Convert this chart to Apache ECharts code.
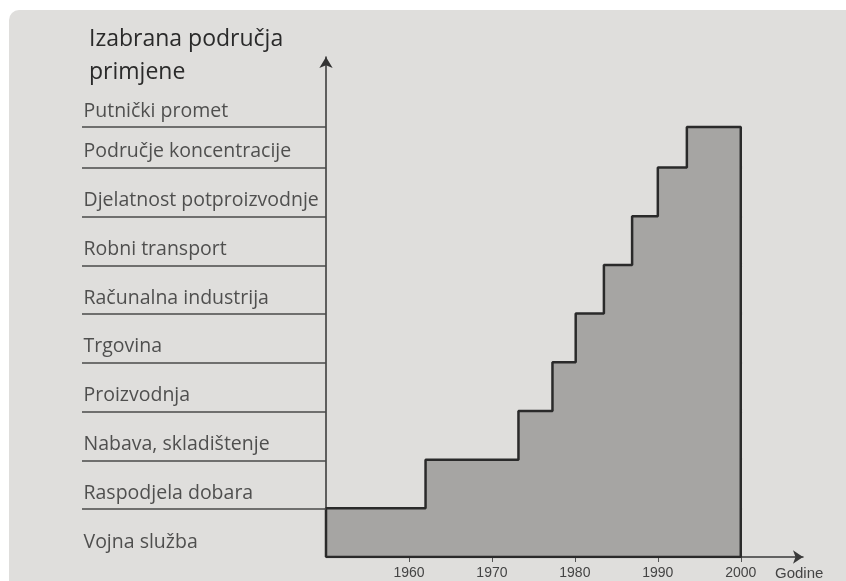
<!DOCTYPE html>
<html>
<head>
<meta charset="utf-8">
<script src="https://cdn.jsdelivr.net/npm/echarts@6/dist/echarts.min.js"></script>
<style>
  html, body { margin: 0; padding: 0; background: #ffffff; }
  #bg { position: absolute; left: 9px; top: 10px; width: 837px; height: 571px; background: #dfdedc; border-top-left-radius: 10px; }
  #chart { position: absolute; left: 0; top: 0; width: 846px; height: 581px; }
</style>
</head>
<body>
<div id="bg"></div>
<div id="chart"></div>
<script>
// Categories (bottom to top)
const categories = [
  'Vojna služba',
  'Raspodjela dobara',
  'Nabava, skladištenje',
  'Proizvodnja',
  'Trgovina',
  'Računalna industrija',
  'Robni transport',
  'Djelatnost potproizvodnje',
  'Područje koncentracije',
  'Putnički promet'
];
// Lower boundary level of each category band
const bandStarts = [0, 1, 2, 3, 4, 5, 6, 7, 8, 8.83];
// Separator lines on the left
const separatorLevels = [1, 2, 3, 4, 5, 6, 7, 8, 8.83];
// Staircase: year at which each level begins, and the level
const stepYears  = [1950, 1962, 1973.2, 1977.3, 1980.1, 1983.5, 1986.9, 1990, 1993.5, 2000];
const stepLevels = [1,    2,    3,      4,      5,      6,      7,      8,    8.83,   8.83];
const tickYears = [1960, 1970, 1980, 1990, 2000];
const xMin = 1950, xMax = 2007.5, yMax = 10.27;

const font = '"Open Sans", "Noto Sans", sans-serif';
const axisFont = '"Liberation Sans", Arial, sans-serif';

const stairData = [[stepYears[0], 0]];
for (let i = 0; i < stepYears.length; i++) stairData.push([stepYears[i], stepLevels[i]]);
stairData.push([stepYears[stepYears.length - 1], 0]);
stairData.push([stepYears[0], 0]);

const chart = echarts.init(document.getElementById('chart'), null, { renderer: 'canvas' });
chart.setOption({
  animation: false,
  backgroundColor: 'transparent',
  title: {
    text: 'Izabrana područja\nprimjene',
    left: 89, top: 23, padding: 0,
    textStyle: { fontFamily: font, fontSize: 23, lineHeight: 33, fontWeight: 'normal', color: '#2a2a2a' }
  },
  grid: [
    { left: 326, right: 43, top: 57, bottom: 23 },
    { left: 82, right: 520, top: 57, bottom: 23 }
  ],
  xAxis: [
    {
      type: 'value', gridIndex: 0, min: xMin, max: xMax,
      name: 'Godine', nameLocation: 'end', nameGap: -28,
      nameTextStyle: { fontFamily: axisFont, fontSize: 15, color: '#444', verticalAlign: 'top', padding: [9, 0, 0, 0] },
      axisLine: { show: true, symbol: ['none', 'arrow'], symbolSize: [10, 10], lineStyle: { color: '#3a3a3a', width: 1.5 } },
      axisTick: { show: true, length: 5, customValues: tickYears, lineStyle: { color: '#555', width: 1 } },
      axisLabel: { show: true, customValues: tickYears, margin: 9, formatter: v => String(v), fontFamily: axisFont, fontSize: 14, color: '#444' },
      splitLine: { show: false }
    },
    { type: 'value', gridIndex: 1, min: 0, max: 1, show: false }
  ],
  yAxis: [
    {
      type: 'value', gridIndex: 0, min: 0, max: yMax,
      axisLine: { show: true, symbol: ['none', 'arrow'], symbolSize: [10, 11], lineStyle: { color: '#333', width: 1.5 } },
      axisTick: { show: false }, axisLabel: { show: false }, splitLine: { show: false }
    },
    { type: 'value', gridIndex: 1, min: 0, max: yMax, show: false }
  ],
  series: [
    {
      type: 'line', xAxisIndex: 0, yAxisIndex: 0,
      step: 'end', symbol: 'none', silent: true,
      data: stairData,
      lineStyle: { color: '#2a2a2a', width: 2.5 },
      areaStyle: { color: '#a6a5a3', opacity: 1 }
    },
    {
      type: 'scatter', xAxisIndex: 1, yAxisIndex: 1,
      symbolSize: 1, itemStyle: { color: 'transparent' }, silent: true,
      data: categories.map((c, i) => ({ name: c, value: [0, bandStarts[i]] })),
      label: {
        show: true, position: 'right', distance: 1, offset: [0, -16],
        formatter: p => p.name,
        fontFamily: font, fontSize: 19.5, color: '#2a2a2a'
      },
      markLine: {
        silent: true, symbol: ['none', 'none'],
        label: { show: false },
        lineStyle: { color: '#4a4a4a', width: 1.5, type: 'solid' },
        data: separatorLevels.map(v => ({ yAxis: v }))
      }
    }
  ]
});
</script>
</body>
</html>
